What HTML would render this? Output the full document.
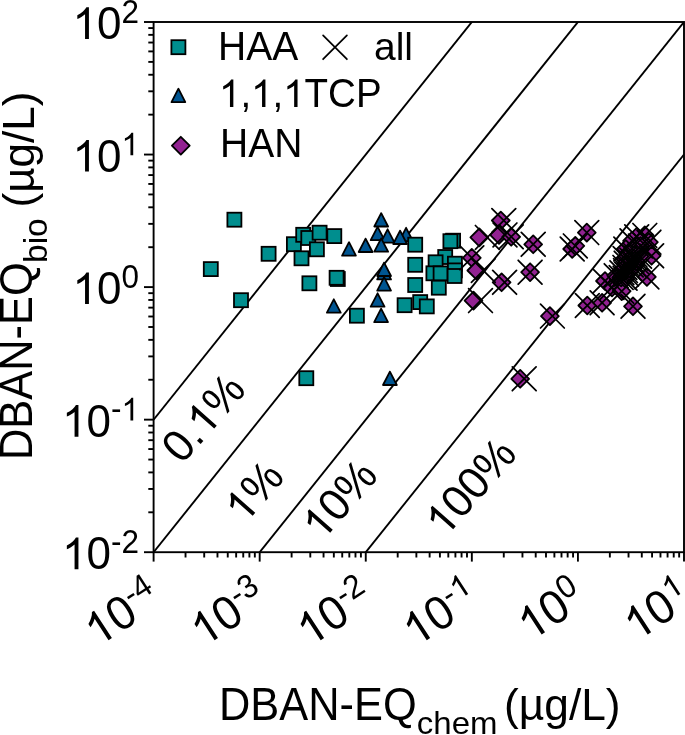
<!DOCTYPE html><html><head><meta charset="utf-8"><style>html,body{margin:0;padding:0;background:#fff;overflow:hidden}svg{display:block;will-change:transform}text{font-family:"Liberation Sans",sans-serif;fill:#000}</style></head><body>
<svg width="685" height="735" viewBox="0 0 685 735">
<defs><clipPath id="pc"><rect x="153.60" y="22.00" width="530.40" height="530.20"/></clipPath></defs>
<g clip-path="url(#pc)" stroke="#000" stroke-width="1.9" fill="none">
<line x1="153.60" y1="419.65" x2="684.00" y2="-243.10"/>
<line x1="153.60" y1="552.20" x2="684.00" y2="-110.55"/>
<line x1="153.60" y1="684.75" x2="684.00" y2="22.00"/>
<line x1="153.60" y1="817.30" x2="684.00" y2="154.55"/>
</g>
<g fill="#005591" stroke="#000" stroke-width="1.8" stroke-linejoin="round">
<path d="M381.20 213.10L374.30 226.50L388.10 226.50Z"/>
<path d="M377.60 226.80L370.70 240.20L384.50 240.20Z"/>
<path d="M387.60 229.30L380.70 242.70L394.50 242.70Z"/>
<path d="M406.10 227.80L399.20 241.20L413.00 241.20Z"/>
<path d="M400.10 230.60L393.20 244.00L407.00 244.00Z"/>
<path d="M381.20 238.30L374.30 251.70L388.10 251.70Z"/>
<path d="M365.60 238.60L358.70 252.00L372.50 252.00Z"/>
<path d="M349.00 242.20L342.10 255.60L355.90 255.60Z"/>
<path d="M384.10 266.00L377.20 279.40L391.00 279.40Z"/>
<path d="M384.10 262.60L377.20 276.00L391.00 276.00Z"/>
<path d="M384.10 277.20L377.20 290.60L391.00 290.60Z"/>
<path d="M377.60 293.30L370.70 306.70L384.50 306.70Z"/>
<path d="M381.10 308.70L374.20 322.10L388.00 322.10Z"/>
<path d="M389.90 371.60L383.00 385.00L396.80 385.00Z"/>
<path d="M333.80 299.30L326.90 312.70L340.70 312.70Z"/>
</g>
<g fill="#008e8e" stroke="#000" stroke-width="1.8" stroke-linejoin="miter">
<rect x="227.40" y="212.70" width="14.0" height="14.0"/>
<rect x="261.60" y="246.80" width="14.0" height="14.0"/>
<rect x="203.80" y="262.10" width="14.0" height="14.0"/>
<rect x="234.00" y="293.20" width="14.0" height="14.0"/>
<rect x="286.90" y="237.20" width="14.0" height="14.0"/>
<rect x="296.20" y="227.80" width="14.0" height="14.0"/>
<rect x="301.30" y="231.00" width="14.0" height="14.0"/>
<rect x="312.60" y="225.70" width="14.0" height="14.0"/>
<rect x="327.30" y="229.10" width="14.0" height="14.0"/>
<rect x="309.90" y="242.30" width="14.0" height="14.0"/>
<rect x="294.50" y="251.30" width="14.0" height="14.0"/>
<rect x="302.40" y="276.30" width="14.0" height="14.0"/>
<rect x="330.80" y="272.00" width="14.0" height="14.0"/>
<rect x="329.60" y="270.80" width="14.0" height="14.0"/>
<rect x="299.30" y="371.20" width="14.0" height="14.0"/>
<rect x="349.90" y="308.70" width="14.0" height="14.0"/>
<rect x="408.20" y="237.70" width="14.0" height="14.0"/>
<rect x="408.20" y="257.80" width="14.0" height="14.0"/>
<rect x="408.20" y="278.00" width="14.0" height="14.0"/>
<rect x="397.60" y="298.20" width="14.0" height="14.0"/>
<rect x="413.20" y="295.10" width="14.0" height="14.0"/>
<rect x="419.80" y="299.40" width="14.0" height="14.0"/>
<rect x="438.20" y="250.00" width="14.0" height="14.0"/>
<rect x="428.60" y="255.30" width="14.0" height="14.0"/>
<rect x="426.40" y="266.30" width="14.0" height="14.0"/>
<rect x="433.60" y="266.40" width="14.0" height="14.0"/>
<rect x="447.90" y="256.70" width="14.0" height="14.0"/>
<rect x="447.90" y="263.40" width="14.0" height="14.0"/>
<rect x="447.60" y="269.00" width="14.0" height="14.0"/>
<rect x="431.80" y="280.70" width="14.0" height="14.0"/>
<rect x="446.10" y="233.70" width="14.0" height="14.0"/>
<rect x="443.40" y="234.20" width="14.0" height="14.0"/>
</g>
<g fill="#922291" stroke="#000" stroke-width="1.8" stroke-linejoin="round">
<path d="M479.30 228.50L488.20 237.40L479.30 246.30L470.40 237.40Z"/>
<path d="M500.80 211.60L509.70 220.50L500.80 229.40L491.90 220.50Z"/>
<path d="M499.00 226.00L507.90 234.90L499.00 243.80L490.10 234.90Z"/>
<path d="M511.20 227.90L520.10 236.80L511.20 245.70L502.30 236.80Z"/>
<path d="M471.80 248.90L480.70 257.80L471.80 266.70L462.90 257.80Z"/>
<path d="M476.30 261.60L485.20 270.50L476.30 279.40L467.40 270.50Z"/>
<path d="M501.60 273.40L510.50 282.30L501.60 291.20L492.70 282.30Z"/>
<path d="M473.50 291.70L482.40 300.60L473.50 309.50L464.60 300.60Z"/>
<path d="M533.20 235.40L542.10 244.30L533.20 253.20L524.30 244.30Z"/>
<path d="M530.10 263.30L539.00 272.20L530.10 281.10L521.20 272.20Z"/>
<path d="M520.20 369.90L529.10 378.80L520.20 387.70L511.30 378.80Z"/>
<path d="M572.20 240.10L581.10 249.00L572.20 257.90L563.30 249.00Z"/>
<path d="M575.30 237.00L584.20 245.90L575.30 254.80L566.40 245.90Z"/>
<path d="M586.80 223.70L595.70 232.60L586.80 241.50L577.90 232.60Z"/>
<path d="M549.90 307.20L558.80 316.10L549.90 325.00L541.00 316.10Z"/>
<path d="M587.30 296.60L596.20 305.50L587.30 314.40L578.40 305.50Z"/>
<path d="M602.10 293.90L611.00 302.80L602.10 311.70L593.20 302.80Z"/>
<path d="M633.00 297.40L641.90 306.30L633.00 315.20L624.10 306.30Z"/>
<path d="M644.80 226.50L653.70 235.40L644.80 244.30L635.90 235.40Z"/>
<path d="M648.90 233.30L657.80 242.20L648.90 251.10L640.00 242.20Z"/>
<path d="M636.70 227.90L645.60 236.80L636.70 245.70L627.80 236.80Z"/>
<path d="M632.00 231.90L640.90 240.80L632.00 249.70L623.10 240.80Z"/>
<path d="M625.80 240.10L634.70 249.00L625.80 257.90L616.90 249.00Z"/>
<path d="M625.10 249.60L634.00 258.50L625.10 267.40L616.20 258.50Z"/>
<path d="M605.00 272.10L613.90 281.00L605.00 289.90L596.10 281.00Z"/>
<path d="M612.00 278.60L620.90 287.50L612.00 296.40L603.10 287.50Z"/>
<path d="M621.70 282.30L630.60 291.20L621.70 300.10L612.80 291.20Z"/>
<path d="M651.60 246.90L660.50 255.80L651.60 264.70L642.70 255.80Z"/>
<path d="M646.90 268.00L655.80 276.90L646.90 285.80L638.00 276.90Z"/>
<path d="M640.50 237.10L649.40 246.00L640.50 254.90L631.60 246.00Z"/>
<path d="M616.20 266.80L625.10 275.70L616.20 284.60L607.30 275.70Z"/>
<path d="M621.20 268.60L630.10 277.50L621.20 286.40L612.30 277.50Z"/>
<path d="M625.10 269.30L634.00 278.20L625.10 287.10L616.20 278.20Z"/>
<path d="M621.90 263.80L630.80 272.70L621.90 281.60L613.00 272.70Z"/>
<path d="M626.50 265.20L635.40 274.10L626.50 283.00L617.60 274.10Z"/>
<path d="M625.50 261.70L634.40 270.60L625.50 279.50L616.60 270.60Z"/>
<path d="M624.90 258.50L633.80 267.40L624.90 276.30L616.00 267.40Z"/>
<path d="M629.50 259.90L638.40 268.80L629.50 277.70L620.60 268.80Z"/>
<path d="M626.20 254.30L635.10 263.20L626.20 272.10L617.30 263.20Z"/>
<path d="M631.20 256.10L640.10 265.00L631.20 273.90L622.30 265.00Z"/>
<path d="M635.10 256.80L644.00 265.70L635.10 274.60L626.20 265.70Z"/>
<path d="M631.90 251.30L640.80 260.20L631.90 269.10L623.00 260.20Z"/>
<path d="M636.50 252.70L645.40 261.60L636.50 270.50L627.60 261.60Z"/>
<path d="M635.50 249.20L644.40 258.10L635.50 267.00L626.60 258.10Z"/>
<path d="M634.90 246.00L643.80 254.90L634.90 263.80L626.00 254.90Z"/>
<path d="M639.50 247.40L648.40 256.30L639.50 265.20L630.60 256.30Z"/>
</g>
<g stroke="#000" stroke-width="1.75" stroke-linecap="round" fill="none">
<path d="M475.40 225.50L499.20 249.30M475.40 249.30L499.20 225.50"/>
<path d="M491.90 208.60L515.70 232.40M491.90 232.40L515.70 208.60"/>
<path d="M493.10 223.00L516.90 246.80M493.10 246.80L516.90 223.00"/>
<path d="M499.30 224.90L523.10 248.70M499.30 248.70L523.10 224.90"/>
<path d="M459.90 245.90L483.70 269.70M459.90 269.70L483.70 245.90"/>
<path d="M471.40 258.60L495.20 282.40M471.40 282.40L495.20 258.60"/>
<path d="M492.70 270.40L516.50 294.20M492.70 294.20L516.50 270.40"/>
<path d="M468.60 288.70L492.40 312.50M468.60 312.50L492.40 288.70"/>
<path d="M521.30 232.40L545.10 256.20M521.30 256.20L545.10 232.40"/>
<path d="M518.20 260.30L542.00 284.10M518.20 284.10L542.00 260.30"/>
<path d="M512.30 366.90L536.10 390.70M512.30 390.70L536.10 366.90"/>
<path d="M560.30 237.10L584.10 260.90M560.30 260.90L584.10 237.10"/>
<path d="M563.40 234.00L587.20 257.80M563.40 257.80L587.20 234.00"/>
<path d="M574.90 220.70L598.70 244.50M574.90 244.50L598.70 220.70"/>
<path d="M540.50 304.20L564.30 328.00M540.50 328.00L564.30 304.20"/>
<path d="M575.40 293.60L599.20 317.40M575.40 317.40L599.20 293.60"/>
<path d="M590.20 290.90L614.00 314.70M590.20 314.70L614.00 290.90"/>
<path d="M621.10 294.40L644.90 318.20M621.10 318.20L644.90 294.40"/>
<path d="M632.90 223.50L656.70 247.30M632.90 247.30L656.70 223.50"/>
<path d="M637.00 230.30L660.80 254.10M637.00 254.10L660.80 230.30"/>
<path d="M624.80 224.90L648.60 248.70M624.80 248.70L648.60 224.90"/>
<path d="M620.10 228.90L643.90 252.70M620.10 252.70L643.90 228.90"/>
<path d="M613.90 237.10L637.70 260.90M613.90 260.90L637.70 237.10"/>
<path d="M613.20 246.60L637.00 270.40M613.20 270.40L637.00 246.60"/>
<path d="M593.10 269.10L616.90 292.90M593.10 292.90L616.90 269.10"/>
<path d="M600.10 275.60L623.90 299.40M600.10 299.40L623.90 275.60"/>
<path d="M609.80 279.30L633.60 303.10M609.80 303.10L633.60 279.30"/>
<path d="M639.70 243.90L663.50 267.70M639.70 267.70L663.50 243.90"/>
<path d="M635.00 265.00L658.80 288.80M635.00 288.80L658.80 265.00"/>
<path d="M628.60 234.10L652.40 257.90M628.60 257.90L652.40 234.10"/>
<path d="M604.30 263.80L628.10 287.60M604.30 287.60L628.10 263.80"/>
<path d="M609.30 265.60L633.10 289.40M609.30 289.40L633.10 265.60"/>
<path d="M613.20 266.30L637.00 290.10M613.20 290.10L637.00 266.30"/>
<path d="M610.00 260.80L633.80 284.60M610.00 284.60L633.80 260.80"/>
<path d="M614.60 262.20L638.40 286.00M614.60 286.00L638.40 262.20"/>
<path d="M613.60 258.70L637.40 282.50M613.60 282.50L637.40 258.70"/>
<path d="M613.00 255.50L636.80 279.30M613.00 279.30L636.80 255.50"/>
<path d="M617.60 256.90L641.40 280.70M617.60 280.70L641.40 256.90"/>
<path d="M614.30 251.30L638.10 275.10M614.30 275.10L638.10 251.30"/>
<path d="M619.30 253.10L643.10 276.90M619.30 276.90L643.10 253.10"/>
<path d="M623.20 253.80L647.00 277.60M623.20 277.60L647.00 253.80"/>
<path d="M620.00 248.30L643.80 272.10M620.00 272.10L643.80 248.30"/>
<path d="M624.60 249.70L648.40 273.50M624.60 273.50L648.40 249.70"/>
<path d="M623.60 246.20L647.40 270.00M623.60 270.00L647.40 246.20"/>
<path d="M623.00 243.00L646.80 266.80M623.00 266.80L646.80 243.00"/>
<path d="M627.60 244.40L651.40 268.20M627.60 268.20L651.40 244.40"/>
</g>
<g stroke="#000" stroke-width="1.9" fill="none" stroke-linecap="butt">
<rect x="153.60" y="22.00" width="530.40" height="530.20"/>
<line x1="144.00" y1="552.20" x2="153.60" y2="552.20"/>
<line x1="148.30" y1="512.30" x2="153.60" y2="512.30"/>
<line x1="148.30" y1="488.96" x2="153.60" y2="488.96"/>
<line x1="148.30" y1="472.40" x2="153.60" y2="472.40"/>
<line x1="148.30" y1="459.55" x2="153.60" y2="459.55"/>
<line x1="148.30" y1="449.06" x2="153.60" y2="449.06"/>
<line x1="148.30" y1="440.18" x2="153.60" y2="440.18"/>
<line x1="148.30" y1="432.50" x2="153.60" y2="432.50"/>
<line x1="148.30" y1="425.72" x2="153.60" y2="425.72"/>
<line x1="144.00" y1="419.65" x2="153.60" y2="419.65"/>
<line x1="148.30" y1="379.75" x2="153.60" y2="379.75"/>
<line x1="148.30" y1="356.41" x2="153.60" y2="356.41"/>
<line x1="148.30" y1="339.85" x2="153.60" y2="339.85"/>
<line x1="148.30" y1="327.00" x2="153.60" y2="327.00"/>
<line x1="148.30" y1="316.51" x2="153.60" y2="316.51"/>
<line x1="148.30" y1="307.63" x2="153.60" y2="307.63"/>
<line x1="148.30" y1="299.95" x2="153.60" y2="299.95"/>
<line x1="148.30" y1="293.17" x2="153.60" y2="293.17"/>
<line x1="144.00" y1="287.10" x2="153.60" y2="287.10"/>
<line x1="148.30" y1="247.20" x2="153.60" y2="247.20"/>
<line x1="148.30" y1="223.86" x2="153.60" y2="223.86"/>
<line x1="148.30" y1="207.30" x2="153.60" y2="207.30"/>
<line x1="148.30" y1="194.45" x2="153.60" y2="194.45"/>
<line x1="148.30" y1="183.96" x2="153.60" y2="183.96"/>
<line x1="148.30" y1="175.08" x2="153.60" y2="175.08"/>
<line x1="148.30" y1="167.40" x2="153.60" y2="167.40"/>
<line x1="148.30" y1="160.62" x2="153.60" y2="160.62"/>
<line x1="144.00" y1="154.55" x2="153.60" y2="154.55"/>
<line x1="148.30" y1="114.65" x2="153.60" y2="114.65"/>
<line x1="148.30" y1="91.31" x2="153.60" y2="91.31"/>
<line x1="148.30" y1="74.75" x2="153.60" y2="74.75"/>
<line x1="148.30" y1="61.90" x2="153.60" y2="61.90"/>
<line x1="148.30" y1="51.41" x2="153.60" y2="51.41"/>
<line x1="148.30" y1="42.53" x2="153.60" y2="42.53"/>
<line x1="148.30" y1="34.85" x2="153.60" y2="34.85"/>
<line x1="148.30" y1="28.07" x2="153.60" y2="28.07"/>
<line x1="144.00" y1="22.00" x2="153.60" y2="22.00"/>
<line x1="153.60" y1="552.20" x2="153.60" y2="561.60"/>
<line x1="185.53" y1="552.20" x2="185.53" y2="557.50"/>
<line x1="204.21" y1="552.20" x2="204.21" y2="557.50"/>
<line x1="217.47" y1="552.20" x2="217.47" y2="557.50"/>
<line x1="227.75" y1="552.20" x2="227.75" y2="557.50"/>
<line x1="236.15" y1="552.20" x2="236.15" y2="557.50"/>
<line x1="243.25" y1="552.20" x2="243.25" y2="557.50"/>
<line x1="249.40" y1="552.20" x2="249.40" y2="557.50"/>
<line x1="254.83" y1="552.20" x2="254.83" y2="557.50"/>
<line x1="259.68" y1="552.20" x2="259.68" y2="561.60"/>
<line x1="291.61" y1="552.20" x2="291.61" y2="557.50"/>
<line x1="310.29" y1="552.20" x2="310.29" y2="557.50"/>
<line x1="323.55" y1="552.20" x2="323.55" y2="557.50"/>
<line x1="333.83" y1="552.20" x2="333.83" y2="557.50"/>
<line x1="342.23" y1="552.20" x2="342.23" y2="557.50"/>
<line x1="349.33" y1="552.20" x2="349.33" y2="557.50"/>
<line x1="355.48" y1="552.20" x2="355.48" y2="557.50"/>
<line x1="360.91" y1="552.20" x2="360.91" y2="557.50"/>
<line x1="365.76" y1="552.20" x2="365.76" y2="561.60"/>
<line x1="397.69" y1="552.20" x2="397.69" y2="557.50"/>
<line x1="416.37" y1="552.20" x2="416.37" y2="557.50"/>
<line x1="429.63" y1="552.20" x2="429.63" y2="557.50"/>
<line x1="439.91" y1="552.20" x2="439.91" y2="557.50"/>
<line x1="448.31" y1="552.20" x2="448.31" y2="557.50"/>
<line x1="455.41" y1="552.20" x2="455.41" y2="557.50"/>
<line x1="461.56" y1="552.20" x2="461.56" y2="557.50"/>
<line x1="466.99" y1="552.20" x2="466.99" y2="557.50"/>
<line x1="471.84" y1="552.20" x2="471.84" y2="561.60"/>
<line x1="503.77" y1="552.20" x2="503.77" y2="557.50"/>
<line x1="522.45" y1="552.20" x2="522.45" y2="557.50"/>
<line x1="535.71" y1="552.20" x2="535.71" y2="557.50"/>
<line x1="545.99" y1="552.20" x2="545.99" y2="557.50"/>
<line x1="554.39" y1="552.20" x2="554.39" y2="557.50"/>
<line x1="561.49" y1="552.20" x2="561.49" y2="557.50"/>
<line x1="567.64" y1="552.20" x2="567.64" y2="557.50"/>
<line x1="573.07" y1="552.20" x2="573.07" y2="557.50"/>
<line x1="577.92" y1="552.20" x2="577.92" y2="561.60"/>
<line x1="609.85" y1="552.20" x2="609.85" y2="557.50"/>
<line x1="628.53" y1="552.20" x2="628.53" y2="557.50"/>
<line x1="641.79" y1="552.20" x2="641.79" y2="557.50"/>
<line x1="652.07" y1="552.20" x2="652.07" y2="557.50"/>
<line x1="660.47" y1="552.20" x2="660.47" y2="557.50"/>
<line x1="667.57" y1="552.20" x2="667.57" y2="557.50"/>
<line x1="673.72" y1="552.20" x2="673.72" y2="557.50"/>
<line x1="679.15" y1="552.20" x2="679.15" y2="557.50"/>
<line x1="684.00" y1="552.20" x2="684.00" y2="561.60"/>
</g>
<g transform="translate(139.00,569.20) scale(1,1.045)"><text id="t1" font-size="44" text-anchor="end"> 0<tspan dy="-15.5" font-size="31.5">-2</tspan></text><path transform="translate(-76.95,0.00) scale(0.02148,-0.02148)" d="M763 0L583 0L583 1102Q518 1043 412.5 983Q307 923 223 894L223 1061Q374 1129 485.5 1225Q597 1320 647 1409L763 1409Z"/></g>
<g transform="translate(139.00,436.65) scale(1,1.045)"><text id="t2" font-size="44" text-anchor="end"> 0<tspan dy="-15.5" font-size="31.5">- </tspan></text><path transform="translate(-76.95,0.00) scale(0.02148,-0.02148)" d="M763 0L583 0L583 1102Q518 1043 412.5 983Q307 923 223 894L223 1061Q374 1129 485.5 1225Q597 1320 647 1409L763 1409Z"/><path transform="translate(-17.52,-15.50) scale(0.01538,-0.01538)" d="M763 0L583 0L583 1102Q518 1043 412.5 983Q307 923 223 894L223 1061Q374 1129 485.5 1225Q597 1320 647 1409L763 1409Z"/></g>
<g transform="translate(139.00,304.10) scale(1,1.045)"><text id="t3" font-size="44" text-anchor="end"> 0<tspan dy="-15.5" font-size="31.5">0</tspan></text><path transform="translate(-66.47,0.00) scale(0.02148,-0.02148)" d="M763 0L583 0L583 1102Q518 1043 412.5 983Q307 923 223 894L223 1061Q374 1129 485.5 1225Q597 1320 647 1409L763 1409Z"/></g>
<g transform="translate(139.00,171.55) scale(1,1.045)"><text id="t4" font-size="44" text-anchor="end"> 0<tspan dy="-15.5" font-size="31.5"> </tspan></text><path transform="translate(-66.47,0.00) scale(0.02148,-0.02148)" d="M763 0L583 0L583 1102Q518 1043 412.5 983Q307 923 223 894L223 1061Q374 1129 485.5 1225Q597 1320 647 1409L763 1409Z"/><path transform="translate(-17.52,-15.50) scale(0.01538,-0.01538)" d="M763 0L583 0L583 1102Q518 1043 412.5 983Q307 923 223 894L223 1061Q374 1129 485.5 1225Q597 1320 647 1409L763 1409Z"/></g>
<g transform="translate(139.00,39.00) scale(1,1.045)"><text id="t5" font-size="44" text-anchor="end"> 0<tspan dy="-15.5" font-size="31.5">2</tspan></text><path transform="translate(-66.47,0.00) scale(0.02148,-0.02148)" d="M763 0L583 0L583 1102Q518 1043 412.5 983Q307 923 223 894L223 1061Q374 1129 485.5 1225Q597 1320 647 1409L763 1409Z"/></g>
<g transform="translate(163.60,604.50) rotate(-33) scale(1,1.045)"><text id="t6" font-size="45.5" text-anchor="end"> 0<tspan dy="-15.5" font-size="31.5">-4</tspan></text><path transform="translate(-78.60,0.00) scale(0.02222,-0.02222)" d="M763 0L583 0L583 1102Q518 1043 412.5 983Q307 923 223 894L223 1061Q374 1129 485.5 1225Q597 1320 647 1409L763 1409Z"/></g>
<g transform="translate(269.68,604.50) rotate(-33) scale(1,1.045)"><text id="t7" font-size="45.5" text-anchor="end"> 0<tspan dy="-15.5" font-size="31.5">-3</tspan></text><path transform="translate(-78.60,0.00) scale(0.02222,-0.02222)" d="M763 0L583 0L583 1102Q518 1043 412.5 983Q307 923 223 894L223 1061Q374 1129 485.5 1225Q597 1320 647 1409L763 1409Z"/></g>
<g transform="translate(375.76,604.50) rotate(-33) scale(1,1.045)"><text id="t8" font-size="45.5" text-anchor="end"> 0<tspan dy="-15.5" font-size="31.5">-2</tspan></text><path transform="translate(-78.60,0.00) scale(0.02222,-0.02222)" d="M763 0L583 0L583 1102Q518 1043 412.5 983Q307 923 223 894L223 1061Q374 1129 485.5 1225Q597 1320 647 1409L763 1409Z"/></g>
<g transform="translate(481.84,604.50) rotate(-33) scale(1,1.045)"><text id="t9" font-size="45.5" text-anchor="end"> 0<tspan dy="-15.5" font-size="31.5">- </tspan></text><path transform="translate(-78.60,0.00) scale(0.02222,-0.02222)" d="M763 0L583 0L583 1102Q518 1043 412.5 983Q307 923 223 894L223 1061Q374 1129 485.5 1225Q597 1320 647 1409L763 1409Z"/><path transform="translate(-17.52,-15.50) scale(0.01538,-0.01538)" d="M763 0L583 0L583 1102Q518 1043 412.5 983Q307 923 223 894L223 1061Q374 1129 485.5 1225Q597 1320 647 1409L763 1409Z"/></g>
<g transform="translate(587.92,604.50) rotate(-33) scale(1,1.045)"><text id="t10" font-size="45.5" text-anchor="end"> 0<tspan dy="-15.5" font-size="31.5">0</tspan></text><path transform="translate(-68.12,0.00) scale(0.02222,-0.02222)" d="M763 0L583 0L583 1102Q518 1043 412.5 983Q307 923 223 894L223 1061Q374 1129 485.5 1225Q597 1320 647 1409L763 1409Z"/></g>
<g transform="translate(694.00,604.50) rotate(-33) scale(1,1.045)"><text id="t11" font-size="45.5" text-anchor="end"> 0<tspan dy="-15.5" font-size="31.5"> </tspan></text><path transform="translate(-68.12,0.00) scale(0.02222,-0.02222)" d="M763 0L583 0L583 1102Q518 1043 412.5 983Q307 923 223 894L223 1061Q374 1129 485.5 1225Q597 1320 647 1409L763 1409Z"/><path transform="translate(-17.52,-15.50) scale(0.01538,-0.01538)" d="M763 0L583 0L583 1102Q518 1043 412.5 983Q307 923 223 894L223 1061Q374 1129 485.5 1225Q597 1320 647 1409L763 1409Z"/></g>
<g transform="translate(182.00,465.00) rotate(-48.5) scale(1,1.04)"><text id="t12" font-size="43.5">0. %</text><path transform="translate(36.25,0.00) scale(0.02124,-0.02124)" d="M763 0L583 0L583 1102Q518 1043 412.5 983Q307 923 223 894L223 1061Q374 1129 485.5 1225Q597 1320 647 1409L763 1409Z"/></g>
<g transform="translate(244.50,525.00) rotate(-48.5) scale(1,1.04)"><text id="t13" font-size="43.5"> %</text><path transform="translate(0.00,0.00) scale(0.02124,-0.02124)" d="M763 0L583 0L583 1102Q518 1043 412.5 983Q307 923 223 894L223 1061Q374 1129 485.5 1225Q597 1320 647 1409L763 1409Z"/></g>
<g transform="translate(322.00,542.00) rotate(-48.5) scale(1,1.04)"><text id="t14" font-size="43.5"> 0%</text><path transform="translate(0.00,0.00) scale(0.02124,-0.02124)" d="M763 0L583 0L583 1102Q518 1043 412.5 983Q307 923 223 894L223 1061Q374 1129 485.5 1225Q597 1320 647 1409L763 1409Z"/></g>
<g transform="translate(445.00,538.50) rotate(-48.5) scale(1,1.04)"><text id="t15" font-size="43.5"> 00%</text><path transform="translate(0.00,0.00) scale(0.02124,-0.02124)" d="M763 0L583 0L583 1102Q518 1043 412.5 983Q307 923 223 894L223 1061Q374 1129 485.5 1225Q597 1320 647 1409L763 1409Z"/></g>
<g stroke="#000" stroke-width="1.8">
<g fill="#008e8e"><rect x="171.40" y="40.20" width="14.0" height="14.0"/></g>
<g fill="#005591" stroke-linejoin="round"><path d="M178.40 88.70L171.50 102.10L185.30 102.10Z"/></g>
<g fill="#922291" stroke-linejoin="round"><path d="M180.80 136.80L189.70 145.70L180.80 154.60L171.90 145.70Z"/></g>
</g>
<g stroke="#000" stroke-width="1.75" stroke-linecap="round" fill="none"><path d="M323.10 35.40L346.90 59.20M323.10 59.20L346.90 35.40"/></g>
<g transform="translate(218.00,60.20) scale(1,1.04)"><text id="t16" font-size="39">HAA</text></g>
<g transform="translate(374.00,60.20) scale(1,0.99)"><text id="t17" font-size="39">all</text></g>
<g transform="translate(219.00,107.00) scale(1,1.04)"><text id="t18" font-size="38.5"> , , TCP</text><path transform="translate(0.00,0.00) scale(0.01880,-0.01880)" d="M763 0L583 0L583 1102Q518 1043 412.5 983Q307 923 223 894L223 1061Q374 1129 485.5 1225Q597 1320 647 1409L763 1409Z"/><path transform="translate(32.09,0.00) scale(0.01880,-0.01880)" d="M763 0L583 0L583 1102Q518 1043 412.5 983Q307 923 223 894L223 1061Q374 1129 485.5 1225Q597 1320 647 1409L763 1409Z"/><path transform="translate(64.19,0.00) scale(0.01880,-0.01880)" d="M763 0L583 0L583 1102Q518 1043 412.5 983Q307 923 223 894L223 1061Q374 1129 485.5 1225Q597 1320 647 1409L763 1409Z"/></g>
<g transform="translate(220.00,157.00) scale(1,1.04)"><text id="t19" font-size="39">HAN</text></g>
<g transform="translate(32.00,460.00) rotate(-90) scale(1,1.045)"><text id="t20" font-size="43.4">DBAN-EQ</text></g>
<g transform="translate(47.30,263.00) rotate(-90) scale(1,0.97)"><text id="t21" font-size="33.5">bio</text></g>
<g transform="translate(33.60,207.50) rotate(-90)"><text id="t22" font-size="44">(µg/L)</text></g>
<g transform="translate(219.00,720.00) scale(1,1.045)"><text id="t23" font-size="43.4">DBAN-EQ</text></g>
<g transform="translate(416.80,733.60) scale(1,0.95)"><text id="t24" font-size="33">chem</text></g>
<g transform="translate(504.00,720.00) scale(1,1.02)"><text id="t25" font-size="44.3">(µg/L)</text></g>
</svg></body></html>
